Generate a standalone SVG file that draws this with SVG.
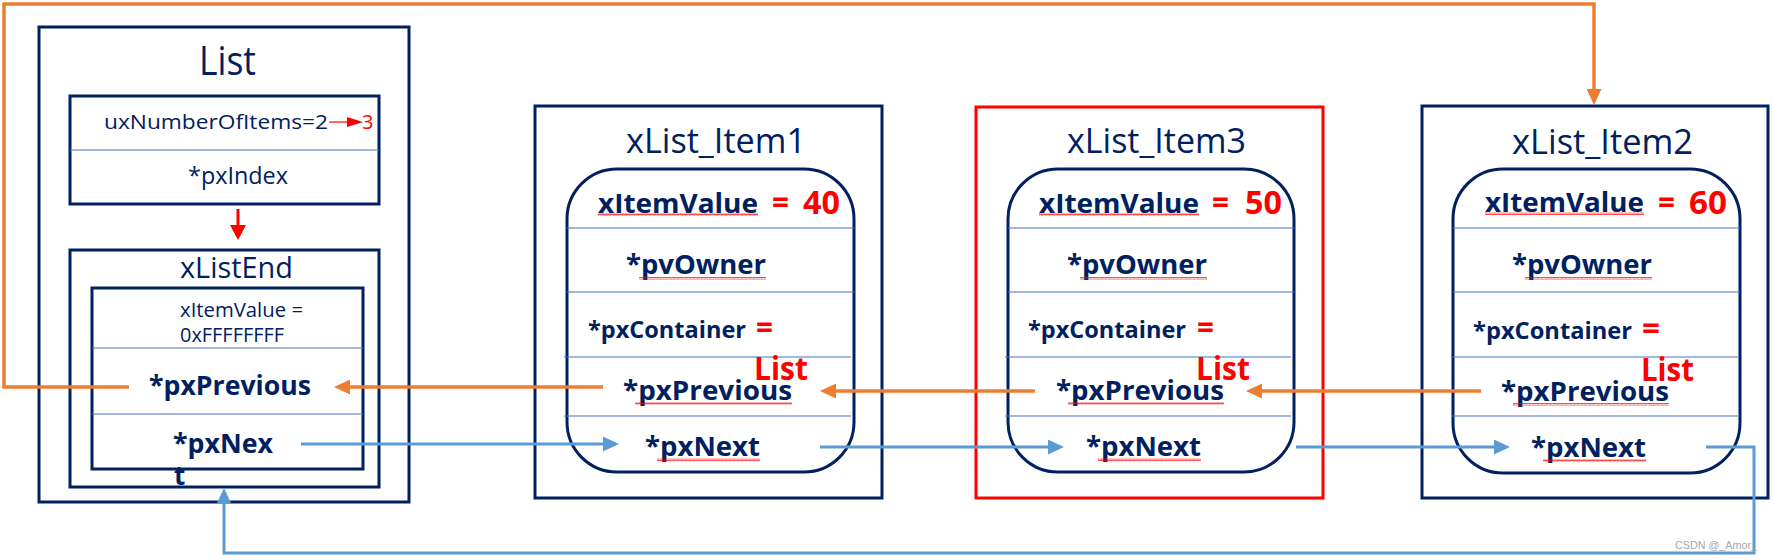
<svg xmlns="http://www.w3.org/2000/svg" width="1773" height="560" viewBox="0 0 1773 560">
<style>
text{font-family:"Open Sans","Noto Sans","Liberation Sans",sans-serif;fill:#002060}
.b{font-weight:bold}
.r{fill:#FF0000;font-weight:bold}
.box{fill:none;stroke:#002060;stroke-width:3}
.rbox{fill:none;stroke:#FF0000;stroke-width:3}
.sep{stroke:#4472C4;stroke-width:1.2}
.t{font-size:34px}
.f26{font-size:26px}
.f23{font-size:23px}
.n{font-size:32px}
.sq{fill:url(#sq)}
.or{fill:none;stroke:#ED7D31;stroke-width:3.5;marker-end:url(#ao)}
.bl{fill:none;stroke:#5B9BD5;stroke-width:3;marker-end:url(#ab)}
</style>
<defs>
<marker id="ao" markerUnits="userSpaceOnUse" markerWidth="16" markerHeight="15" refX="8" refY="7.5" orient="auto"><path d="M0,0 L16,7.5 L0,15z" fill="#ED7D31"/></marker>
<marker id="ab" markerUnits="userSpaceOnUse" markerWidth="16" markerHeight="15" refX="8" refY="7.5" orient="auto"><path d="M0,0 L16,7.5 L0,15z" fill="#5B9BD5"/></marker>
<marker id="ar" markerUnits="userSpaceOnUse" markerWidth="16" markerHeight="16" refX="8" refY="8" orient="auto"><path d="M0,0 L15,8 L0,16z" fill="#FF0000"/></marker>
<marker id="ars" markerUnits="userSpaceOnUse" markerWidth="16" markerHeight="10" refX="8" refY="5" orient="auto"><path d="M0,0 L16,5 L0,10z" fill="#FF0000"/></marker>
<pattern id="sq" patternUnits="userSpaceOnUse" width="4" height="3"><path d="M0,2.5 L1,0.5 L2,2.5 L3,0.5 L4,2.5" fill="none" stroke="#FF0000" stroke-width="0.7"/></pattern>
</defs>

<g id="list">
<rect class="box" x="39" y="27" width="370" height="475"/>
<text x="199" y="75" font-size="40" textLength="57" lengthAdjust="spacingAndGlyphs">List</text>
<rect class="box" x="70" y="96" width="309" height="108"/>
<line class="sep" x1="70" y1="150" x2="379" y2="150"/>
<text x="104" y="129" font-size="20" textLength="224" lengthAdjust="spacingAndGlyphs">uxNumberOfItems=2</text>
<line x1="329" y1="122" x2="355" y2="122" stroke="#FF0000" stroke-width="1.2" marker-end="url(#ars)"/>
<text class="r" x="362" y="129" font-size="20" style="font-weight:normal">3</text>
<text x="188" y="184" font-size="24" textLength="100" lengthAdjust="spacingAndGlyphs">*pxIndex</text>
<line x1="238" y1="209" x2="238" y2="233" stroke="#FF0000" stroke-width="3" marker-end="url(#ar)"/>
</g>

<g id="xListEnd">
<rect class="box" x="70" y="250" width="309" height="237"/>
<text x="180" y="278" font-size="29" textLength="113" lengthAdjust="spacingAndGlyphs">xListEnd</text>
<rect class="box" x="92" y="288" width="271" height="181"/>
<line class="sep" x1="92" y1="348" x2="363" y2="348"/>
<line class="sep" x1="92" y1="414" x2="363" y2="414"/>
<text x="180" y="317" font-size="20" textLength="123" lengthAdjust="spacingAndGlyphs">xItemValue =</text>
<text x="180" y="342" font-size="20" textLength="104" lengthAdjust="spacingAndGlyphs">0xFFFFFFFF</text>
<text class="b f26" x="149" y="395" textLength="162" lengthAdjust="spacingAndGlyphs">*pxPrevious</text>
<text class="b f26" x="173" y="453" textLength="100" lengthAdjust="spacingAndGlyphs">*pxNex</text>
<text class="b f26" x="174" y="485">t</text>
</g>

<g id="item1">
<rect class="box" x="535" y="106" width="347" height="392"/>
<text class="t" x="626" y="153" textLength="180" lengthAdjust="spacingAndGlyphs">xList_Item1</text>
<rect class="box" x="567" y="169" width="287" height="303" rx="50" ry="50"/>
<line class="sep" x1="567" y1="228" x2="854" y2="228"/>
<line class="sep" x1="567" y1="292" x2="854" y2="292"/>
<line class="sep" x1="564" y1="357" x2="851" y2="357"/>
<line class="sep" x1="564" y1="416" x2="851" y2="416"/>
<text class="b f26" x="598" y="213" textLength="160" lengthAdjust="spacingAndGlyphs">xItemValue</text>
<text class="r n" x="772" y="214" textLength="17" lengthAdjust="spacingAndGlyphs">=</text>
<text class="r n" x="803" y="214" textLength="37" lengthAdjust="spacingAndGlyphs">40</text>
<text class="b f26" x="626" y="274" textLength="140" lengthAdjust="spacingAndGlyphs">*pvOwner</text>
<text class="b f23" x="588" y="338" textLength="158" lengthAdjust="spacingAndGlyphs">*pxContainer</text>
<text class="r n" x="756" y="339" textLength="17" lengthAdjust="spacingAndGlyphs">=</text>
<text class="r n" x="754" y="380" textLength="54" lengthAdjust="spacingAndGlyphs">List</text>
<text class="b f26" x="623" y="400" textLength="169" lengthAdjust="spacingAndGlyphs">*pxPrevious</text>
<text class="b f26" x="645" y="456" textLength="115" lengthAdjust="spacingAndGlyphs">*pxNext</text>
<rect class="sq" x="598" y="213" width="160" height="3"/>
<rect class="sq" x="639" y="277" width="127" height="3"/>
<rect class="sq" x="635" y="402" width="157" height="3"/>
<rect class="sq" x="657" y="458" width="103" height="3"/>
</g>

<g id="item3">
<rect class="rbox" x="976" y="107" width="347" height="391"/>
<text class="t" x="1067" y="153" textLength="179" lengthAdjust="spacingAndGlyphs">xList_Item3</text>
<rect class="box" x="1008" y="169" width="286" height="303" rx="50" ry="50"/>
<line class="sep" x1="1008" y1="228" x2="1294" y2="228"/>
<line class="sep" x1="1008" y1="292" x2="1294" y2="292"/>
<line class="sep" x1="1005" y1="357" x2="1291" y2="357"/>
<line class="sep" x1="1005" y1="416" x2="1291" y2="416"/>
<text class="b f26" x="1039" y="213" textLength="160" lengthAdjust="spacingAndGlyphs">xItemValue</text>
<text class="r n" x="1212" y="214" textLength="17" lengthAdjust="spacingAndGlyphs">=</text>
<text class="r n" x="1245" y="214" textLength="37" lengthAdjust="spacingAndGlyphs">50</text>
<text class="b f26" x="1067" y="274" textLength="140" lengthAdjust="spacingAndGlyphs">*pvOwner</text>
<text class="b f23" x="1028" y="338" textLength="158" lengthAdjust="spacingAndGlyphs">*pxContainer</text>
<text class="r n" x="1197" y="339" textLength="17" lengthAdjust="spacingAndGlyphs">=</text>
<text class="r n" x="1196" y="380" textLength="54" lengthAdjust="spacingAndGlyphs">List</text>
<text class="b f26" x="1056" y="400" textLength="168" lengthAdjust="spacingAndGlyphs">*pxPrevious</text>
<text class="b f26" x="1086" y="456" textLength="115" lengthAdjust="spacingAndGlyphs">*pxNext</text>
<rect class="sq" x="1039" y="213" width="160" height="3"/>
<rect class="sq" x="1080" y="277" width="127" height="3"/>
<rect class="sq" x="1068" y="402" width="156" height="3"/>
<rect class="sq" x="1098" y="458" width="103" height="3"/>
</g>

<g id="item2">
<rect class="box" x="1422" y="106" width="346" height="392"/>
<text class="t" x="1512" y="154" textLength="181" lengthAdjust="spacingAndGlyphs">xList_Item2</text>
<rect class="box" x="1453" y="169" width="287" height="304" rx="50" ry="50"/>
<line class="sep" x1="1453" y1="228" x2="1740" y2="228"/>
<line class="sep" x1="1453" y1="292" x2="1740" y2="292"/>
<line class="sep" x1="1451" y1="357" x2="1738" y2="357"/>
<line class="sep" x1="1451" y1="416" x2="1738" y2="416"/>
<text class="b f26" x="1485" y="212" textLength="159" lengthAdjust="spacingAndGlyphs">xItemValue</text>
<text class="r n" x="1658" y="214" textLength="17" lengthAdjust="spacingAndGlyphs">=</text>
<text class="r n" x="1689" y="214" textLength="38" lengthAdjust="spacingAndGlyphs">60</text>
<text class="b f26" x="1512" y="274" textLength="140" lengthAdjust="spacingAndGlyphs">*pvOwner</text>
<text class="b f23" x="1473" y="339" textLength="159" lengthAdjust="spacingAndGlyphs">*pxContainer</text>
<text class="r n" x="1642" y="340" textLength="18" lengthAdjust="spacingAndGlyphs">=</text>
<text class="r n" x="1641" y="381" textLength="53" lengthAdjust="spacingAndGlyphs">List</text>
<text class="b f26" x="1501" y="401" textLength="168" lengthAdjust="spacingAndGlyphs">*pxPrevious</text>
<text class="b f26" x="1531" y="457" textLength="115" lengthAdjust="spacingAndGlyphs">*pxNext</text>
<rect class="sq" x="1485" y="212" width="159" height="3"/>
<rect class="sq" x="1525" y="277" width="127" height="3"/>
<rect class="sq" x="1513" y="403" width="156" height="3"/>
<rect class="sq" x="1543" y="459" width="103" height="3"/>
</g>

<g id="connectors">
<path class="or" d="M129,387 H4 V4 H1594 V97"/>
<path class="or" d="M1481,391 H1254"/>
<path class="or" d="M1035,391 H828"/>
<path class="or" d="M603,387 H342"/>
<path class="bl" d="M301,444 H611"/>
<path class="bl" d="M820,447 H1056"/>
<path class="bl" d="M1296,447 H1502"/>
<path class="bl" d="M1706,447 H1754 V553 H224 V496"/>
</g>

<text x="1675" y="549" font-size="11" style="fill:#A6A6A6;font-family:'Liberation Sans',sans-serif" textLength="82" lengthAdjust="spacingAndGlyphs">CSDN @_Amor_</text>
</svg>
